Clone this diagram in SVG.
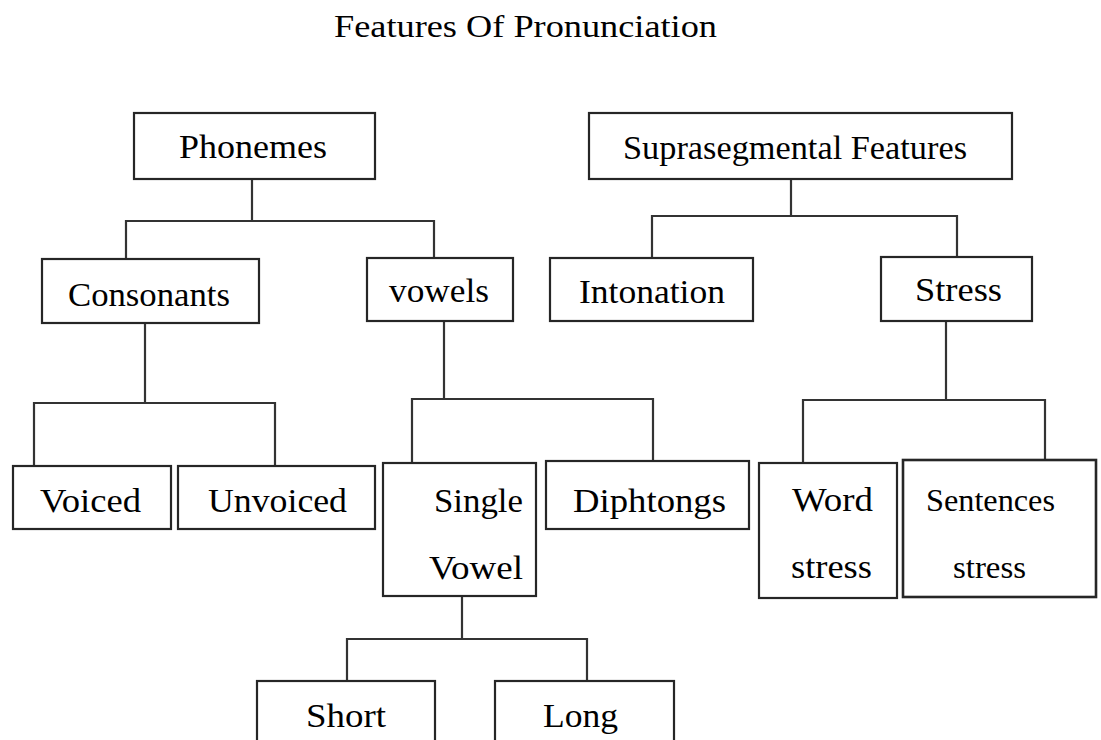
<svg xmlns="http://www.w3.org/2000/svg" width="1101" height="740" viewBox="0 0 1101 740">
<style>
.box{fill:#fff;stroke:#262626;stroke-width:2.2}
.con{fill:none;stroke:#333;stroke-width:2.2}
.t{font-family:'Times New Roman',Times,'Liberation Serif',Tinos,'DejaVu Serif',serif;font-size:34px;fill:#000}
.sm{font-size:31px}
.title{font-size:32px}
</style>
<rect width="1101" height="740" fill="#fff"/>
<text class="t title" x="334" y="37" textLength="383" lengthAdjust="spacingAndGlyphs">Features Of Pronunciation</text>
<g id="connectors">
<path class="con" d="M252 179V221M126 259V221H434V258"/>
<path class="con" d="M791 179V216M652 258V216H957V257"/>
<path class="con" d="M145 323V403M34 466V403H275V466"/>
<path class="con" d="M444 321V399M412 463V399H653V461"/>
<path class="con" d="M946 321V400M803 463V400H1045V460"/>
<path class="con" d="M462 596V639M347 681V639H587V681"/>
</g>
<g id="phonemes"><rect class="box" x="134" y="113" width="241" height="66"/><text class="t" x="179" y="158" textLength="148" lengthAdjust="spacingAndGlyphs">Phonemes</text></g>
<g id="suprasegmental"><rect class="box" x="589" y="113" width="423" height="66"/><text class="t" x="623" y="159" textLength="344" lengthAdjust="spacingAndGlyphs">Suprasegmental Features</text></g>
<g id="consonants"><rect class="box" x="42" y="259" width="217" height="64"/><text class="t" x="68" y="306" textLength="162" lengthAdjust="spacingAndGlyphs">Consonants</text></g>
<g id="vowels"><rect class="box" x="367" y="258" width="146" height="63"/><text class="t" x="389" y="302" textLength="100" lengthAdjust="spacingAndGlyphs">vowels</text></g>
<g id="intonation"><rect class="box" x="550" y="258" width="203" height="63"/><text class="t" x="579" y="303" textLength="146" lengthAdjust="spacingAndGlyphs">Intonation</text></g>
<g id="stress"><rect class="box" x="881" y="257" width="151" height="64"/><text class="t" x="915" y="301" textLength="87" lengthAdjust="spacingAndGlyphs">Stress</text></g>
<g id="voiced"><rect class="box" x="13" y="466" width="158" height="63"/><text class="t" x="40" y="512" textLength="101" lengthAdjust="spacingAndGlyphs">Voiced</text></g>
<g id="unvoiced"><rect class="box" x="178" y="466" width="197" height="63"/><text class="t" x="208" y="512" textLength="139" lengthAdjust="spacingAndGlyphs">Unvoiced</text></g>
<g id="single-vowel"><rect class="box" x="383" y="463" width="153" height="133"/><text class="t" x="434" y="512" textLength="89" lengthAdjust="spacingAndGlyphs">Single</text><text class="t" x="429" y="579" textLength="94" lengthAdjust="spacingAndGlyphs">Vowel</text></g>
<g id="diphtongs"><rect class="box" x="546" y="461" width="203" height="68"/><text class="t" x="573" y="512" textLength="153" lengthAdjust="spacingAndGlyphs">Diphtongs</text></g>
<g id="word-stress"><rect class="box" x="759" y="463" width="138" height="135"/><text class="t" x="792" y="511" textLength="81" lengthAdjust="spacingAndGlyphs">Word</text><text class="t" x="791" y="578" textLength="81" lengthAdjust="spacingAndGlyphs">stress</text></g>
<g id="sentences-stress"><rect class="box" x="903" y="460" width="193" height="137" style="stroke-width:2.6"/><text class="t sm" x="926" y="511" textLength="129" lengthAdjust="spacingAndGlyphs">Sentences</text><text class="t sm" x="953" y="578" textLength="73" lengthAdjust="spacingAndGlyphs">stress</text></g>
<g id="short"><rect class="box" x="257" y="681" width="178" height="80"/><text class="t" x="306" y="727" textLength="80" lengthAdjust="spacingAndGlyphs">Short</text></g>
<g id="long"><rect class="box" x="495" y="681" width="179" height="80"/><text class="t" x="543" y="727" textLength="75" lengthAdjust="spacingAndGlyphs">Long</text></g>
</svg>
